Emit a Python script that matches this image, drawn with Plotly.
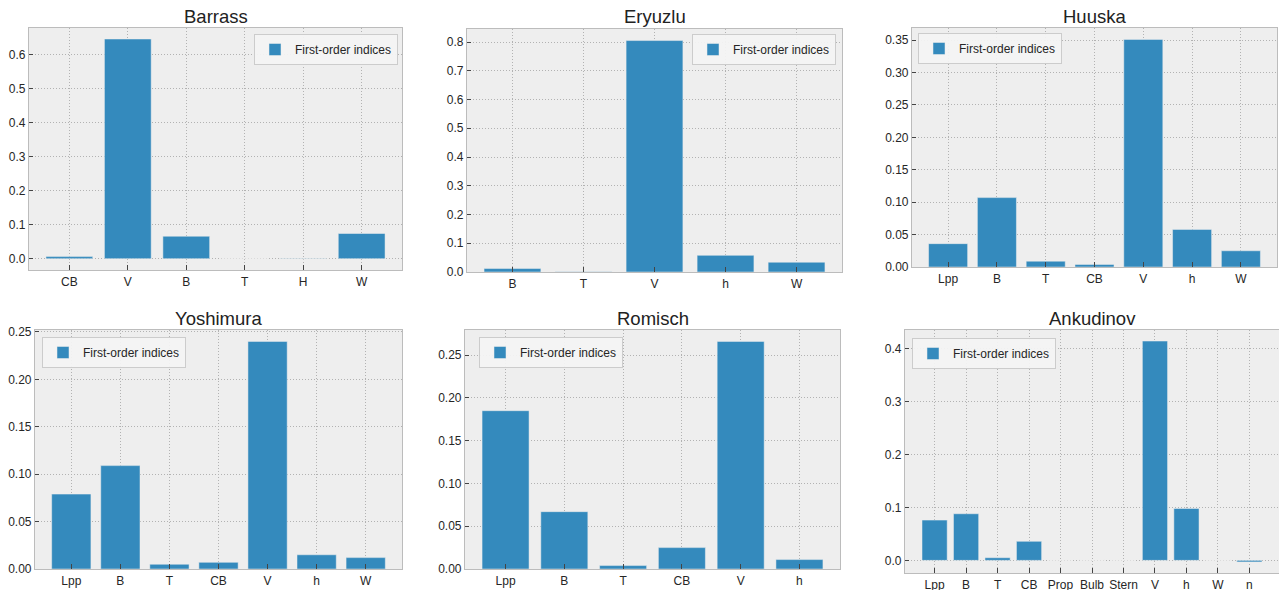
import plotly.graph_objects as go
from plotly.subplots import make_subplots

# ---------------- data ----------------
titles = ["Barrass", "Eryuzlu", "Huuska", "Yoshimura", "Romisch", "Ankudinov"]

barrass_cats = ["CB", "V", "B", "T", "H", "W"]
barrass_vals = [0.006, 0.646, 0.066, 0.0, -0.001, 0.074]

eryuzlu_cats = ["B", "T", "V", "h", "W"]
eryuzlu_vals = [0.012, 0.001, 0.805, 0.058, 0.034]

huuska_cats = ["Lpp", "B", "T", "CB", "V", "h", "W"]
huuska_vals = [0.036, 0.107, 0.009, 0.004, 0.351, 0.058, 0.025]

yoshimura_cats = ["Lpp", "B", "T", "CB", "V", "h", "W"]
yoshimura_vals = [0.079, 0.109, 0.005, 0.007, 0.240, 0.015, 0.012]

romisch_cats = ["Lpp", "B", "T", "CB", "V", "h"]
romisch_vals = [0.185, 0.067, 0.004, 0.025, 0.266, 0.011]

ankudinov_cats = ["Lpp", "B", "T", "CB", "Prop", "Bulb", "Stern", "V", "h", "W", "n"]
ankudinov_vals = [0.076, 0.088, 0.005, 0.036, 0.0, 0.0, 0.0, 0.414, 0.098, 0.0, -0.003]

series_name = "First-order indices"

panels = [
    (barrass_cats, barrass_vals),
    (eryuzlu_cats, eryuzlu_vals),
    (huuska_cats, huuska_vals),
    (yoshimura_cats, yoshimura_vals),
    (romisch_cats, romisch_vals),
    (ankudinov_cats, ankudinov_vals),
]

# ---------------- layout (pixels) ----------------
W, H = 1279, 590
# (x0, x1, y0_top, y1_bottom)
boxes = [
    (29, 402, 28, 270),
    (467, 842, 29, 272),
    (912, 1277, 28, 267),
    (35, 402, 330, 569),
    (465, 840, 330, 569),
    (905, 1279, 330, 573),
]
title_y = [16, 16, 16, 318, 318, 318]
# legend top-left corners (px)
legend_pos = [(254, 34), (692, 34), (918, 33), (42, 337), (479, 337), (912, 338)]
ytick_step = [0.1, 0.1, 0.05, 0.05, 0.05, 0.1]
ytick_fmt = [".1f", ".1f", ".2f", ".2f", ".2f", ".1f"]

BAR = "#348ABD"
BG = "#eeeeee"
GRID = "#b2b2b2"
EDGE = "#bcbcbc"
FONT = "Liberation Sans, Arial, Helvetica, sans-serif"
TXT = "#262626"

fig = make_subplots(rows=2, cols=3)

for i, (cats, vals) in enumerate(panels):
    r, c = i // 3 + 1, i % 3 + 1
    lg = "legend" if i == 0 else f"legend{i+1}"
    fig.add_trace(
        go.Bar(
            x=cats, y=vals, name=series_name, width=0.8,
            marker=dict(color=BAR, line=dict(color=BG, width=0.5)),
            legend=lg, showlegend=True,
        ),
        row=r, col=c,
    )
    x0, x1, yt, yb = boxes[i]
    n = len(cats)
    xspan = (n - 1 + 0.4) - (-0.4)
    xr = [-0.4 - 0.05 * xspan, n - 1 + 0.4 + 0.05 * xspan]
    lo, hi = min(vals), max(vals)
    yspan = hi - min(lo, 0)
    ylo = 0 if lo >= 0 else lo - 0.05 * yspan
    yhi = hi + 0.05 * yspan
    axn = "" if i == 0 else str(i + 1)
    fig.update_layout({
        f"xaxis{axn}": dict(
            domain=[x0 / W, x1 / W], range=xr, type="category",
            showgrid=True, gridcolor=GRID, griddash="1px,2px", gridwidth=1,
            showline=True, mirror=True, linecolor=EDGE, linewidth=1.2,
            ticks="inside", ticklen=5, tickcolor="#444", tickwidth=1,
            tickfont=dict(family=FONT, size=12, color=TXT),
            zeroline=False, fixedrange=True, automargin=False,
        ),
        f"yaxis{axn}": dict(
            domain=[1 - yb / H, 1 - yt / H], range=[ylo, yhi],
            dtick=ytick_step[i], tick0=0, tickformat=ytick_fmt[i],
            showgrid=True, gridcolor=GRID, griddash="1px,2px", gridwidth=1,
            showline=True, mirror=True, linecolor=EDGE, linewidth=1.2,
            ticks="inside", ticklen=4, tickcolor="#444", tickwidth=1,
            tickfont=dict(family=FONT, size=12, color=TXT),
            zeroline=False, fixedrange=True, automargin=False,
        ),
        lg: dict(
            x=legend_pos[i][0] / W, y=1 - legend_pos[i][1] / H,
            xanchor="left", yanchor="top", xref="paper", yref="paper",
            bgcolor="rgba(243,243,243,0.95)", bordercolor="#cccccc", borderwidth=1,
            font=dict(family=FONT, size=12, color=TXT),
            tracegroupgap=0, itemwidth=30,
        ),
    })
    fig.add_annotation(
        text=titles[i], xref="paper", yref="paper",
        x=(x0 + x1) / 2 / W, y=1 - title_y[i] / H,
        xanchor="center", yanchor="middle", showarrow=False,
        font=dict(family=FONT, size=18.5, color="#222222"),
    )

fig.update_layout(
    width=W, height=H,
    margin=dict(l=0, r=0, t=0, b=0),
    paper_bgcolor="white", plot_bgcolor=BG,
    bargap=0.2,
    font=dict(family=FONT, color=TXT),
)

fig.write_html(
    "out.html",
    config={"displayModeBar": False},
    post_script="document.body.style.margin='0';document.body.style.padding='0';"
                "document.body.style.overflow='hidden';",
)
